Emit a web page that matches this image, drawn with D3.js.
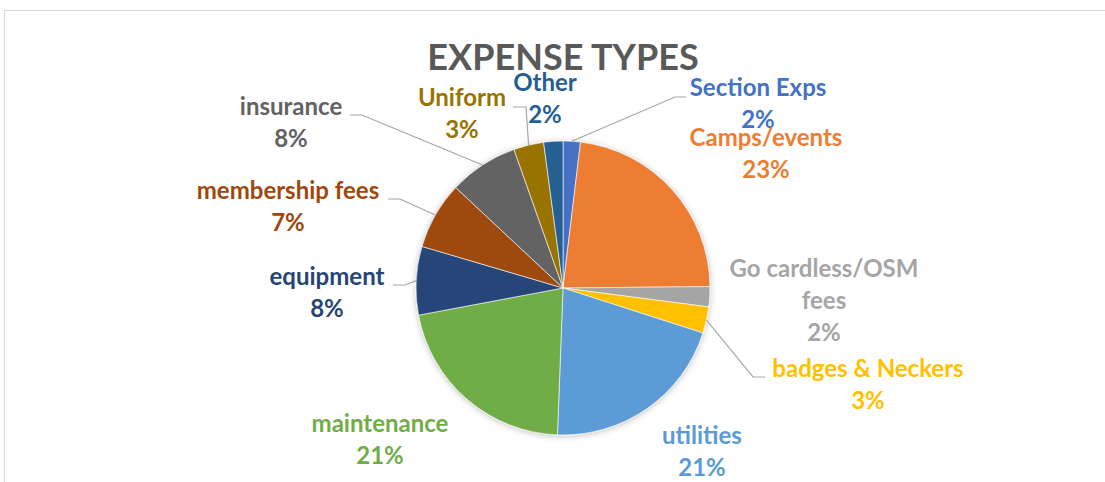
<!DOCTYPE html>
<meta charset="utf-8">
<script src="https://d3js.org/d3.v7.min.js"></script>
<style>
  body { margin: 0; background: #fff; }
  text { font-family: Lato, "Open Sans", sans-serif; font-weight: bold; }
</style>
<div id="my_dataviz"></div>
<script>

// slices, clockwise from 12 o'clock
var categories = ["Section Exps", "Camps/events", "Go cardless/OSM fees", "badges & Neckers",
  "utilities", "maintenance", "equipment", "membership fees", "insurance", "Uniform", "Other"]
var values = [1.9, 22.9, 2.2, 2.9, 20.6, 21.4, 7.5, 7.4, 7.6, 3.3, 2.1]
var colors = ["#4472C4", "#ED7D31", "#A5A5A5", "#FFC000", "#5B9BD5", "#70AD47",
  "#264478", "#9E480E", "#636363", "#997300", "#255E91"]

// how the label text is broken into lines
var labelLines = [["Section Exps"], ["Camps/events"], ["Go cardless/OSM", "fees"], ["badges & Neckers"],
  ["utilities"], ["maintenance"], ["equipment"], ["membership fees"], ["insurance"], ["Uniform"], ["Other"]]

var width = 1105, height = 482
var cx = 563, cy = 288, radius = 147

// label placement (centre x, first baseline) and leader line elbow, as Excel laid them out
var labelPos = [
  {x: 758, y: 96, elbow: [675, 97], end: 686},
  {x: 766, y: 146},
  {x: 824, y: 277},
  {x: 868, y: 377, elbow: [753, 377], end: 765},
  {x: 702, y: 444},
  {x: 380, y: 432},
  {x: 327, y: 285, elbow: [405, 285], end: 393},
  {x: 288, y: 199, elbow: [400, 199], end: 388},
  {x: 291, y: 115, elbow: [362, 115], end: 350},
  {x: 462, y: 106, elbow: [526, 107], end: 513},
  {x: 545, y: 91}
]

var svg = d3.select("#my_dataviz")
  .append("svg")
  .attr("width", width)
  .attr("height", height)

// soft shadow round the pie
var defs = svg.append("defs")
var filter = defs.append("filter").attr("id", "shadow")
  .attr("x", "-20%").attr("y", "-20%").attr("width", "140%").attr("height", "140%")
filter.append("feDropShadow")
  .attr("dx", 0).attr("dy", 1)
  .attr("stdDeviation", 3)
  .attr("flood-color", "#000")
  .attr("flood-opacity", 0.25)

// chart frame (only top and left edges show)
svg.append("path")
  .attr("d", "M4.5," + height + "V10.5H" + width)
  .attr("fill", "none")
  .attr("stroke", "#d9d9d9")
  .attr("stroke-width", 1)

svg.append("text")
  .attr("x", cx)
  .attr("y", 70)
  .attr("text-anchor", "middle")
  .style("font-size", "36px")
  .attr("fill", "#595959")
  .text("EXPENSE TYPES")

var total = d3.sum(values)
var data = categories.map(function(c, i) { return {name: c, value: values[i], i: i} })

var pie = d3.pie()
  .value(function(d) { return d.value })
  .sort(null)

var arc = d3.arc().innerRadius(0).outerRadius(radius)
var edge = d3.arc().innerRadius(radius).outerRadius(radius)

var arcs = pie(data)

var g = svg.append("g")
  .attr("transform", "translate(" + cx + "," + cy + ")")

g.append("g")
  .attr("filter", "url(#shadow)")
  .selectAll("path")
  .data(arcs)
  .enter()
  .append("path")
  .attr("d", arc)
  .attr("fill", function(d) { return colors[d.data.i] })
  .attr("stroke", "#fff")
  .attr("stroke-width", 0.6)

// leader lines
arcs.forEach(function(d) {
  var p = labelPos[d.data.i]
  if (!p.elbow) return
  var c = edge.centroid(d)
  var pts = [[c[0] + cx, c[1] + cy], p.elbow, [p.end, p.elbow[1]]]
  svg.append("path")
    .attr("d", d3.line()(pts))
    .attr("fill", "none")
    .attr("stroke", "#a6a6a6")
    .attr("stroke-width", 1.2)
})

// labels: category name(s) then percentage
arcs.forEach(function(d) {
  var i = d.data.i
  var p = labelPos[i]
  var lines = labelLines[i].concat([Math.round(d.data.value / total * 100) + "%"])
  var t = svg.append("text")
    .attr("text-anchor", "middle")
    .attr("fill", colors[i])
    .style("font-size", "24px")
  lines.forEach(function(s, k) {
    t.append("tspan")
      .attr("x", p.x)
      .attr("y", p.y + k * 32)
      .text(s)
  })
})

</script>
